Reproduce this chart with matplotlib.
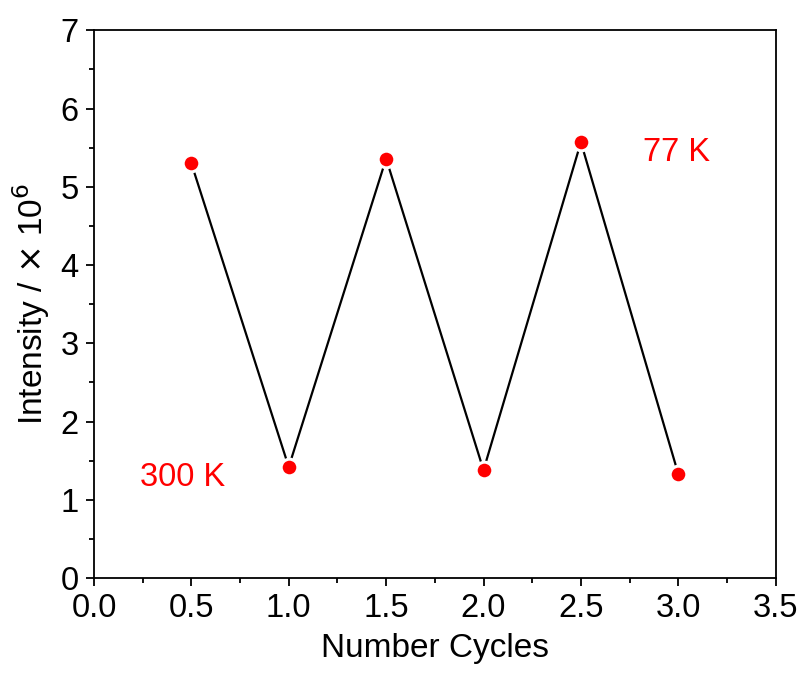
import matplotlib.pyplot as plt
from matplotlib.ticker import MultipleLocator

plt.rcParams['font.family'] = ['Liberation Sans', 'DejaVu Sans']

# data
cycles = [0.5, 1.0, 1.5, 2.0, 2.5, 3.0]
intensity = [5.30, 1.42, 5.36, 1.38, 5.57, 1.33]

fig = plt.figure(figsize=(8.03, 6.73), dpi=100)
ax = fig.add_axes([0.117, 0.141, 0.849, 0.814])

ax.plot(cycles, intensity, color='black', linewidth=1.6, zorder=2)
ax.plot(cycles, intensity, linestyle='none', marker='o', markersize=12,
        markerfacecolor='red', markeredgecolor='white', markeredgewidth=2.2, zorder=3)

ax.text(0.457, 1.28, '300 K', color='red', fontsize=23.5, ha='center', va='center')
ax.text(2.99, 5.44, '77 K', color='red', fontsize=23.5, ha='center', va='center')

ax.set_xlim(0, 3.5)
ax.set_ylim(0, 7)
ax.xaxis.set_major_locator(MultipleLocator(0.5))
ax.xaxis.set_minor_locator(MultipleLocator(0.25))
ax.yaxis.set_major_locator(MultipleLocator(1))
ax.yaxis.set_minor_locator(MultipleLocator(0.5))
ax.xaxis.set_major_formatter(plt.FormatStrFormatter('%.1f'))

ax.tick_params(which='both', direction='out', top=False, right=False, width=1.3)
ax.tick_params(which='major', length=6, labelsize=23.5, pad=5)
ax.tick_params(which='minor', length=3.5)
for s in ax.spines.values():
    s.set_linewidth(1.3)

ax.set_xlabel('Number Cycles', fontsize=24, labelpad=6)
ax.set_ylabel(r'Intensity / $\times$ 10$^{6}$', fontsize=24, labelpad=6)

fig.savefig('out.png', dpi=100)
